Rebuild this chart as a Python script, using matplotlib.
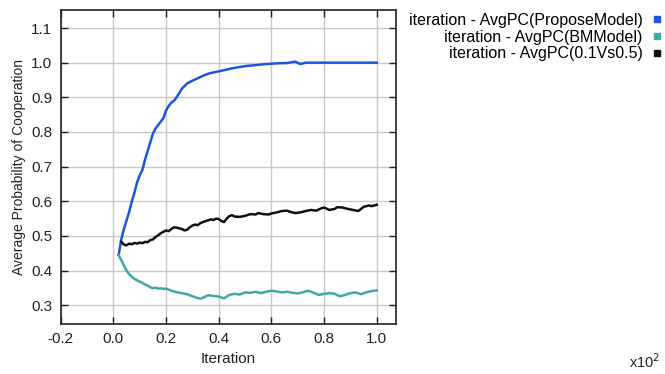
import matplotlib
matplotlib.use("Agg")
import matplotlib.pyplot as plt
from matplotlib.lines import Line2D

plt.rcParams['font.family'] = ['Liberation Sans', 'DejaVu Sans']

# ---- data (x in units of 10^2 iterations) ----
x_propose = [0.02, 0.03, 0.04, 0.05, 0.06, 0.07, 0.08, 0.09, 0.10, 0.11,
             0.12, 0.13, 0.14, 0.15, 0.16, 0.17, 0.18, 0.19, 0.20, 0.21,
             0.22, 0.23, 0.24, 0.25, 0.26, 0.28, 0.30, 0.32, 0.34, 0.36,
             0.38, 0.40, 0.43, 0.46, 0.50, 0.54, 0.58, 0.62, 0.66, 0.69,
             0.71, 0.73, 1.00]
y_propose = [0.445, 0.49, 0.52, 0.545, 0.57, 0.60, 0.625, 0.655, 0.675, 0.69,
             0.72, 0.745, 0.77, 0.795, 0.81, 0.82, 0.83, 0.84, 0.862, 0.875,
             0.885, 0.89, 0.90, 0.912, 0.925, 0.94, 0.948, 0.955, 0.962, 0.968,
             0.972, 0.975, 0.98, 0.985, 0.99, 0.993, 0.996, 0.998, 0.999, 1.003,
             0.996, 1.0, 1.0]

x_bm = [0.02, 0.03, 0.04, 0.05, 0.06, 0.07, 0.08, 0.09, 0.10, 0.11,
        0.12, 0.13, 0.14, 0.15, 0.16, 0.17, 0.18, 0.19, 0.20, 0.22,
        0.24, 0.26, 0.28, 0.30, 0.32, 0.33, 0.34, 0.36, 0.38, 0.40,
        0.42, 0.44, 0.46, 0.48, 0.50, 0.52, 0.54, 0.56, 0.58, 0.60,
        0.62, 0.64, 0.66, 0.68, 0.70, 0.72, 0.74, 0.76, 0.78, 0.80,
        0.82, 0.84, 0.86, 0.88, 0.90, 0.92, 0.94, 0.96, 0.98, 1.00]
y_bm = [0.445, 0.43, 0.415, 0.40, 0.39, 0.382, 0.376, 0.372, 0.368, 0.365,
        0.36, 0.357, 0.352, 0.349, 0.351, 0.348, 0.349, 0.347, 0.348, 0.342,
        0.338, 0.335, 0.332, 0.326, 0.321, 0.319, 0.322, 0.329, 0.327, 0.325,
        0.320, 0.330, 0.333, 0.331, 0.337, 0.336, 0.339, 0.335, 0.339, 0.342,
        0.340, 0.337, 0.339, 0.336, 0.334, 0.338, 0.342, 0.336, 0.330, 0.333,
        0.335, 0.333, 0.326, 0.330, 0.335, 0.337, 0.332, 0.337, 0.341, 0.343]

x_mix = [0.03, 0.04, 0.05, 0.06, 0.07, 0.08, 0.09, 0.10, 0.11, 0.12,
         0.13, 0.14, 0.15, 0.16, 0.17, 0.18, 0.19, 0.20, 0.21, 0.22,
         0.23, 0.24, 0.25, 0.26, 0.27, 0.28, 0.29, 0.30, 0.31, 0.32,
         0.33, 0.34, 0.35, 0.36, 0.37, 0.38, 0.39, 0.40, 0.41, 0.42,
         0.43, 0.44, 0.45, 0.46, 0.48, 0.50, 0.52, 0.54, 0.55, 0.57,
         0.59, 0.60, 0.62, 0.64, 0.66, 0.67, 0.69, 0.71, 0.73, 0.75,
         0.77, 0.79, 0.80, 0.82, 0.84, 0.85, 0.87, 0.89, 0.91, 0.93,
         0.95, 0.97, 0.98, 1.00]
y_mix = [0.483, 0.475, 0.473, 0.478, 0.476, 0.480, 0.478, 0.481, 0.479, 0.483,
         0.482, 0.488, 0.490, 0.497, 0.502, 0.508, 0.512, 0.516, 0.514, 0.520,
         0.525, 0.524, 0.522, 0.520, 0.516, 0.518, 0.525, 0.530, 0.533, 0.531,
         0.537, 0.540, 0.543, 0.545, 0.548, 0.546, 0.550, 0.549, 0.543, 0.540,
         0.550, 0.557, 0.560, 0.556, 0.555, 0.558, 0.563, 0.562, 0.566, 0.563,
         0.562, 0.565, 0.568, 0.572, 0.573, 0.570, 0.566, 0.568, 0.572, 0.575,
         0.573, 0.580, 0.582, 0.575, 0.578, 0.583, 0.582, 0.578, 0.575, 0.572,
         0.584, 0.588, 0.586, 0.590]

labels = ['iteration - AvgPC(ProposeModel)',
          'iteration - AvgPC(BMModel)',
          'iteration - AvgPC(0.1Vs0.5)']
colors = ['#1f55dc', '#3fa9a9', '#111111']

xticks = [-0.2, 0.0, 0.2, 0.4, 0.6, 0.8, 1.0]
yticks = [0.3, 0.4, 0.5, 0.6, 0.7, 0.8, 0.9, 1.0, 1.1]

fig = plt.figure(figsize=(6.65, 3.74), dpi=100)
ax = fig.add_axes([0.0913, 0.1337, 0.5042, 0.8396])

series = [(x_propose, y_propose), (x_bm, y_bm), (x_mix, y_mix)]
for (xs, ys), c in zip(series, colors):
    ax.plot(xs, ys, color=c, lw=1.8, zorder=3)

ax.set_xlim(-0.2, 1.073)
ax.set_ylim(0.246, 1.152)
ax.set_xticks(xticks)
ax.set_yticks(yticks)
ax.set_xticklabels(['%.1f' % v for v in xticks])
ax.set_yticklabels(['%.1f' % v for v in yticks])
ax.grid(True, color='#c8c8c8', lw=1.0)
ax.set_axisbelow(True)
ax.tick_params(direction='in', length=5, width=1, top=True, right=True,
               labelsize=11, colors='#222222', pad=6)
for s in ax.spines.values():
    s.set_linewidth(1.2)
    s.set_color('#222222')

ax.set_xlabel('Iteration', fontsize=11, color='#222222', labelpad=4)
ax.set_ylabel('Average Probability of Cooperation', fontsize=10,
              color='#222222', labelpad=4)

handles = [Line2D([], [], marker='s', ls='none', color=c, markersize=4.5)
           for c in colors]
fig.legend(handles, labels, loc='upper right', bbox_to_anchor=(0.995, 0.965),
           frameon=False, markerfirst=False, fontsize=11.5, handlelength=0.6,
           handletextpad=0.6, labelspacing=0.1, borderpad=0, borderaxespad=0)

fig.text(0.97, 0.015, r'x10$^2$', fontsize=10.5, color='#222222', ha='center')

fig.savefig('out.png', dpi=100)
